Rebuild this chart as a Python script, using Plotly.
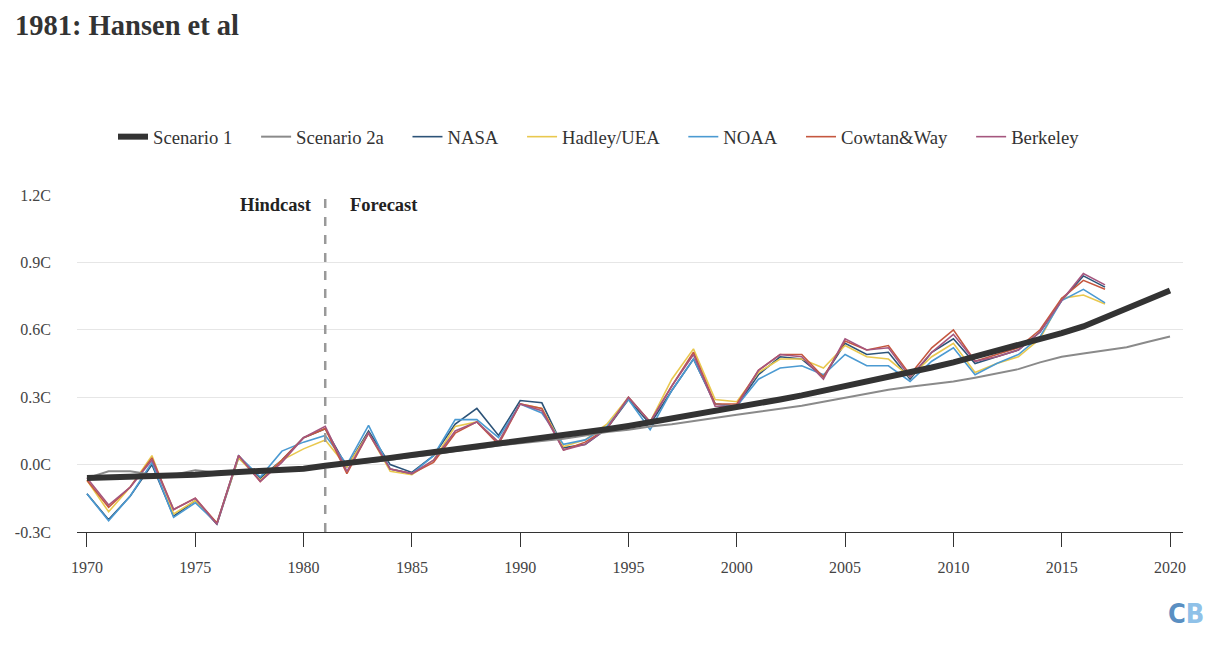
import plotly.graph_objects as go

years_obs = list(range(1970, 2018))
years_scen = list(range(1970, 2021))

scenario1 = [-0.06, -0.058, -0.056, -0.053, -0.05, -0.045, -0.038, -0.032, -0.027, -0.022,
             -0.018, -0.005, 0.005, 0.018, 0.03, 0.043, 0.055, 0.068, 0.08, 0.092,
             0.105, 0.117, 0.13, 0.143, 0.157, 0.172, 0.188, 0.205, 0.222, 0.238,
             0.255, 0.272, 0.29, 0.308, 0.328, 0.348, 0.368, 0.388, 0.41, 0.432,
             0.455, 0.48, 0.505, 0.53, 0.555, 0.585, 0.615, 0.655, 0.695, 0.735, 0.775]

scenario2a = [-0.06, -0.03, -0.03, -0.045, -0.045, -0.025, -0.035, -0.035, -0.03, -0.025,
              -0.02, -0.01, 0.0, 0.01, 0.02, 0.035, 0.045, 0.06, 0.07, 0.085,
              0.095, 0.105, 0.115, 0.13, 0.145, 0.155, 0.17, 0.18, 0.195, 0.21,
              0.222, 0.235, 0.248, 0.262, 0.28, 0.298, 0.315, 0.333, 0.347, 0.358,
              0.37, 0.387, 0.405, 0.425, 0.455, 0.48, 0.495, 0.508, 0.522, 0.547, 0.57]

nasa = [-0.13, -0.245, -0.14, 0.00, -0.23, -0.16, -0.265, 0.03, -0.06, 0.02,
        0.12, 0.16, -0.01, 0.15, 0.00, -0.035, 0.04, 0.18, 0.25, 0.13,
        0.285, 0.275, 0.075, 0.09, 0.16, 0.29, 0.18, 0.33, 0.47, 0.27,
        0.26, 0.40, 0.48, 0.47, 0.39, 0.54, 0.49, 0.50, 0.38, 0.50,
        0.56, 0.45, 0.48, 0.51, 0.59, 0.73, 0.84, 0.79]

hadley = [-0.07, -0.21, -0.10, 0.04, -0.22, -0.16, -0.26, 0.03, -0.07, 0.02,
          0.07, 0.11, -0.01, 0.14, -0.03, -0.045, 0.02, 0.17, 0.19, 0.10,
          0.27, 0.25, 0.08, 0.11, 0.18, 0.30, 0.19, 0.38, 0.515, 0.29,
          0.28, 0.41, 0.47, 0.47, 0.43, 0.53, 0.48, 0.47, 0.39, 0.48,
          0.54, 0.41, 0.45, 0.48, 0.56, 0.74, 0.755, 0.715]

noaa = [-0.13, -0.25, -0.14, 0.01, -0.235, -0.17, -0.26, 0.04, -0.055, 0.06,
        0.10, 0.13, 0.00, 0.175, -0.02, -0.04, 0.04, 0.20, 0.20, 0.12,
        0.27, 0.23, 0.09, 0.11, 0.17, 0.29, 0.155, 0.33, 0.47, 0.27,
        0.26, 0.38, 0.43, 0.44, 0.40, 0.49, 0.44, 0.44, 0.37, 0.46,
        0.52, 0.40, 0.45, 0.49, 0.57, 0.73, 0.78, 0.72]

cowtan = [-0.07, -0.19, -0.10, 0.03, -0.20, -0.15, -0.26, 0.04, -0.075, 0.02,
          0.12, 0.16, -0.04, 0.14, -0.02, -0.04, 0.01, 0.14, 0.19, 0.09,
          0.27, 0.25, 0.065, 0.10, 0.16, 0.30, 0.19, 0.35, 0.50, 0.27,
          0.27, 0.42, 0.49, 0.49, 0.39, 0.55, 0.51, 0.53, 0.40, 0.52,
          0.60, 0.46, 0.49, 0.52, 0.60, 0.74, 0.82, 0.78]

berkeley = [-0.06, -0.18, -0.10, 0.02, -0.20, -0.15, -0.265, 0.04, -0.075, 0.01,
            0.12, 0.17, -0.03, 0.14, -0.02, -0.04, 0.02, 0.15, 0.19, 0.10,
            0.27, 0.24, 0.065, 0.09, 0.16, 0.30, 0.19, 0.35, 0.49, 0.26,
            0.26, 0.42, 0.49, 0.48, 0.38, 0.56, 0.51, 0.52, 0.39, 0.50,
            0.58, 0.46, 0.48, 0.51, 0.59, 0.73, 0.85, 0.80]

y_ticks = [-0.3, 0.0, 0.3, 0.6, 0.9, 1.2]
x_ticks = list(range(1970, 2021, 5))
split_year = 1981

FONT = "Liberation Serif"
PAD = "\u00a0\u00a0\u00a0\u00a0"

fig = go.Figure()

obs = [("NASA", nasa, "#2c5378", 3),
       ("Hadley/UEA", hadley, "#e9c84e", 4),
       ("NOAA", noaa, "#4b9ad2", 5),
       ("Cowtan&Way", cowtan, "#c5573f", 6),
       ("Berkeley", berkeley, "#a5567e", 7)]

for name, vals, col, rank in obs:
    fig.add_trace(go.Scatter(x=years_obs, y=vals, name=name + PAD, mode="lines",
                             line=dict(color=col, width=1.6), legendrank=rank))

fig.add_trace(go.Scatter(x=years_scen, y=scenario2a, name="Scenario 2a" + PAD, mode="lines",
                         line=dict(color="#8a8a8a", width=2), legendrank=2))
fig.add_trace(go.Scatter(x=years_scen, y=scenario1, name="Scenario 1" + PAD, mode="lines",
                         line=dict(color="#333333", width=6), legendrank=1))

fig.add_shape(type="line", x0=split_year, x1=split_year, y0=0, y1=1, xref="x", yref="paper",
              line=dict(color="#999999", width=2.5, dash="dash"))

fig.add_annotation(x=split_year, y=1.2, xref="x", yref="y", text="<b>Hindcast</b>",
                   showarrow=False, xanchor="right", yanchor="top", xshift=-11, yshift=2,
                   font=dict(family=FONT, size=18.5, color="#222222"))
fig.add_annotation(x=split_year, y=1.2, xref="x", yref="y", text="<b>Forecast</b>",
                   showarrow=False, xanchor="left", yanchor="top", xshift=23, yshift=2,
                   font=dict(family=FONT, size=18.5, color="#222222"))

fig.add_annotation(x=(1178 - 69) / 1106, y=(524 - 605) / 337, xref="paper", yref="paper",
                   text="<b><span style='color:#5a8fc2'>C</span><span style='color:#8fc1e8'>B</span></b>",
                   showarrow=False, xanchor="center", yanchor="middle",
                   font=dict(family="DejaVu Sans Condensed", size=27))

fig.update_layout(
    width=1198, height=630,
    paper_bgcolor="white", plot_bgcolor="white",
    margin=dict(l=69, r=23, t=187, b=106),
    font=dict(family=FONT, color="#333333"),
    title=dict(text="<b>1981: Hansen et al</b>", x=7 / 1198, xanchor="left",
               xref="container", y=1 - 17 / 630, yanchor="middle", yref="container",
               font=dict(family=FONT, size=28.5, color="#333333")),
    legend=dict(orientation="h", x=(600 - 69) / 1106, xanchor="center",
                y=(524 - 129) / 337, yanchor="middle",
                font=dict(family=FONT, size=18.7, color="#333333"),
                itemwidth=30, traceorder="normal"),
    showlegend=True,
)

fig.update_xaxes(range=[1969.54, 2020.6], tickvals=x_ticks, ticktext=[str(t) for t in x_ticks],
                 showgrid=False, showline=True, linecolor="#333333", linewidth=1.2,
                 ticks="outside", ticklen=14, tickcolor="#333333", tickwidth=1.2,
                 ticklabelstandoff=7, automargin=False,
                 tickfont=dict(family=FONT, size=16, color="#444444"), zeroline=False)
fig.update_yaxes(range=[-0.3, 1.2], tickvals=y_ticks,
                 ticktext=[f"{v:.1f}C" for v in y_ticks],
                 showgrid=True, gridcolor="#e6e6e6", gridwidth=1, zeroline=False,
                 showline=False, ticks="outside", ticklen=22, tickcolor="rgba(0,0,0,0)",
                 automargin=False,
                 tickfont=dict(family=FONT, size=16, color="#444444"))

fig.write_html("out.html")
